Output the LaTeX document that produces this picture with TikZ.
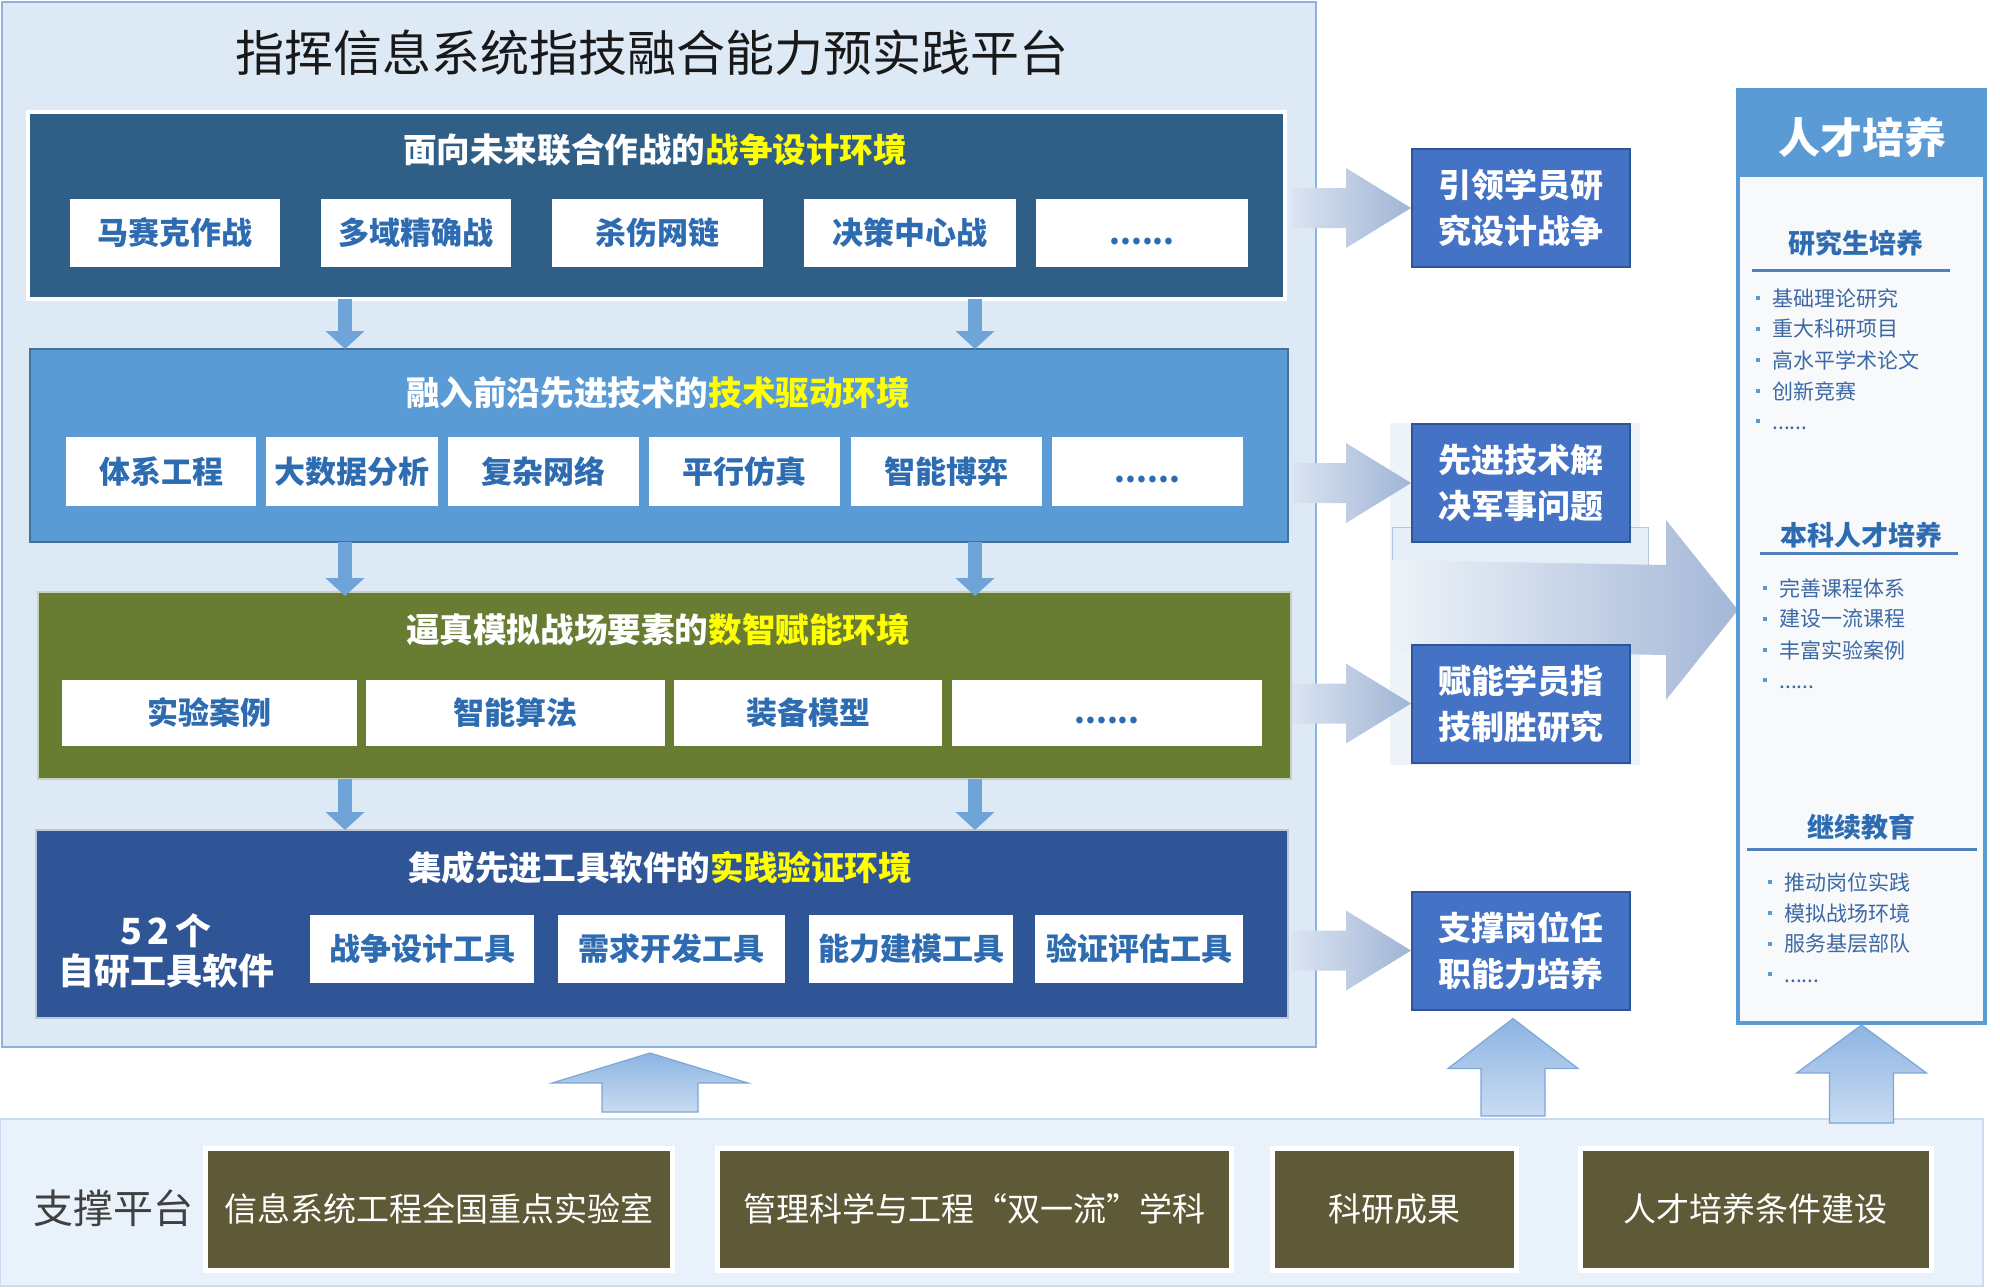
\documentclass[tikz,border=0pt]{standalone}
\usepackage{fontspec}
\setmainfont{Noto Sans CJK SC}
\usetikzlibrary{arrows.meta, calc}

\definecolor{panelbg}{RGB}{222,233,246}
\definecolor{panelline}{RGB}{142,178,222}
\definecolor{warblue}{RGB}{47,94,134}
\definecolor{techblue}{RGB}{91,155,213}
\definecolor{techline}{RGB}{65,113,156}
\definecolor{datagreen}{RGB}{104,124,50}
\definecolor{dataline}{RGB}{200,208,190}
\definecolor{toolblue}{RGB}{47,85,151}
\definecolor{toolline}{RGB}{190,200,215}
\definecolor{itemtext}{RGB}{46,108,178}
\definecolor{hiyellow}{RGB}{255,255,0}
\definecolor{goalblue}{RGB}{68,114,196}
\definecolor{basebg}{RGB}{233,241,250}
\definecolor{baseline}{RGB}{200,219,240}
\definecolor{baseolive}{RGB}{94,89,55}
\definecolor{arrowblue}{RGB}{111,164,217}
\definecolor{listtext}{RGB}{60,104,165}
\definecolor{rulecol}{RGB}{79,129,189}
\definecolor{talentbg}{RGB}{248,249,251}
\definecolor{uptop}{RGB}{141,180,226}
\definecolor{upbottom}{RGB}{201,220,242}
\definecolor{upline}{RGB}{126,166,216}
\definecolor{rightlight}{RGB}{218,228,241}
\definecolor{rightdark}{RGB}{160,180,213}
\definecolor{bandbg}{RGB}{238,243,249}
\definecolor{bandbox}{RGB}{230,238,248}
\definecolor{bandline}{RGB}{180,200,228}
\definecolor{curvedark}{RGB}{164,183,215}

\newcommand\more{\vphantom{马}......}
\newcommand\bul{\textcolor{techblue}{\rule[0.3em]{2pt}{2pt}}\hspace{6pt}}

% block arrows: tail, tip, head length, head half width, shaft half width
\newcommand\blockright[5]{%
  \shade[rightarr] ($(#1)+(0,-#5)$) -- ($(#2)+(-#3,-#5)$) -- ($(#2)+(-#3,-#4)$) -- (#2)
    -- ($(#2)+(-#3,#4)$) -- ($(#2)+(-#3,#5)$) -- ($(#1)+(0,#5)$) -- cycle;}
\newcommand\blockup[5]{%
  \shade[uparr] ($(#1)+(-#5,0)$) -- ($(#2)+(-#5,#3)$) -- ($(#2)+(-#4,#3)$) -- (#2)
    -- ($(#2)+(#4,#3)$) -- ($(#2)+(#5,#3)$) -- ($(#1)+(#5,0)$) -- cycle;}

\tikzset{
  wh/.style 2 args={minimum width=#1*0.5pt, minimum height=#2*0.5pt},
  layer/.style={inner sep=0pt, outer sep=0pt},
  envhead/.style={font=\bfseries\fontsize{16.8}{20}\selectfont, text=white},
  item/.style={fill=white, inner sep=0pt, font=\bfseries\fontsize{15.5}{18}\selectfont, text=itemtext},
  goalbox/.style={fill=goalblue, draw=toolblue, line width=1pt, text=white, align=center,
    inner sep=0pt, font=\bfseries\fontsize{16.5}{23}\selectfont},
  basebox/.style={fill=baseolive, draw=white, line width=2.5pt, text=white, inner sep=0pt,
    font=\fontsize{16.5}{20}\selectfont},
  downarr/.style={draw=arrowblue, line width=7pt, -{Triangle[width=19pt,length=9pt]}},
  uparr/.style={top color=uptop, bottom color=upbottom, draw=upline, line width=0.6pt},
  rightarr/.style={left color=rightlight, right color=rightdark},
  subhead/.style={font=\bfseries\fontsize{13.5}{16}\selectfont, text=itemtext},
  listitem/.style={anchor=west, inner sep=0pt, font=\fontsize{10.5}{12}\selectfont, text=listtext},
}

\begin{document}
\begin{tikzpicture}[x=0.5pt, y=-0.5pt]
\useasboundingbox (0,0) rectangle (2000,1287);

% --- main platform
\node[layer, wh={1314}{1045}, fill=panelbg, draw=panelline, line width=1pt] (main) at (659,524.5) {};
\node[font=\fontsize{24.5}{28}\selectfont, text=black!90] (title) at (652,53) {指挥信息系统指技融合能力预实践平台};

% --- four environments
\node[layer, wh={1257}{187}, fill=warblue, draw=white, line width=2pt] (war) at (656.5,205.5) {};
\node[envhead] (warhead) at (655,150) {面向未来联合作战的\textcolor{hiyellow}{战争设计环境}};
\foreach \name/\cx/\w [count=\i] in {马赛克作战/175/210, 多域精确战/416/190, 杀伤网链/657.5/211,
    决策中心战/910/212, \more/1142/212}
  \node[item, wh={\w}{68}] (war\i) at (\cx,233) {\name};

\node[layer, wh={1258}{193}, fill=techblue, draw=techline, line width=1pt] (tech) at (659,445.5) {};
\node[envhead] (techhead) at (658,393) {融入前沿先进技术的\textcolor{hiyellow}{技术驱动环境}};
\foreach \name/\cx/\w [count=\i] in {体系工程/161/190, 大数据分析/352/172, 复杂网络/543.5/191,
    平行仿真/744.5/191, 智能博弈/946.5/191, \more/1147.5/191}
  \node[item, wh={\w}{69}] (tech\i) at (\cx,471.5) {\name};

\node[layer, wh={1253}{187}, fill=datagreen, draw=dataline, line width=1pt] (data) at (664.5,685.5) {};
\node[envhead] (datahead) at (658,630) {逼真模拟战场要素的\textcolor{hiyellow}{数智赋能环境}};
\foreach \name/\cx/\w [count=\i] in {实验案例/209.5/295, 智能算法/515.5/299, 装备模型/808/268, \more/1107/310}
  \node[item, wh={\w}{66}] (data\i) at (\cx,712.5) {\name};

\node[layer, wh={1252}{188}, fill=toolblue, draw=toolline, line width=1pt] (tool) at (662,924) {};
\node[envhead] (toolhead) at (660,868) {集成先进工具软件的\textcolor{hiyellow}{实践验证环境}};
\node[text=white, align=center, font=\bfseries\fontsize{18}{20}\selectfont] (toolcount) at (166,951) {5\,2\,个\\自研工具软件};
\foreach \name/\cx/\w [count=\i] in {战争设计工具/422/224, 需求开发工具/671.5/227, 能力建模工具/911/204, 验证评估工具/1139/208}
  \node[item, wh={\w}{68}] (tool\i) at (\cx,949) {\name};

% --- arrows between the environments
\foreach \x [count=\k] in {345,975} \coordinate (col\k) at (\x,0);
\foreach \k in {1,2} {
  \draw[downarr] (war.south -| col\k) -- (tech.north -| col\k);
  \draw[downarr] (tech.south -| col\k) -- ($(data.north -| col\k)+(0,4)$);
  \draw[downarr] (data.south -| col\k) -- (tool.north -| col\k);
}

% --- faint band behind the middle goals
\fill[bandbg] (1390,423) rectangle (1640,765);
\draw[fill=bandbox, draw=bandline] (1392,527) rectangle (1648,620);
\shade[left color=bandbg, right color=curvedark]
  (1392,560) -- (1666,565) -- (1666,520) -- (1738,610) -- (1666,700) -- (1666,655) -- (1392,650) -- cycle;

% --- goals
\foreach \name/\cy [count=\i] in {{引领学员研\\究设计战争}/208, {先进技术解\\决军事问题}/483,
    {赋能学员指\\技制胜研究}/703.5, {支撑岗位任\\职能力培养}/950.5}
  \node[goalbox, wh={218}{118}] (r\i) at (1521,\cy) {\name};

\coordinate (rtail) at (1292,0);
\foreach \i in {1,...,4} \blockright{r\i.west -| rtail}{r\i.west}{65}{40}{20};

% --- talent training
\node[layer, wh={247}{933}, fill=talentbg, draw=techblue, line width=2pt] (talent) at (1861.5,556.5) {};
\fill[techblue] (talent.north west) rectangle ($(talent.north east)+(0,87)$);
\node[text=white, font=\bfseries\fontsize{21}{24}\selectfont] (talenthead) at (1862,137) {人才培养};

\node[subhead] (grad) at (1856,243) {研究生培养};
\draw[rulecol, line width=1.5pt] (1752,270) -- (1950,270);
\foreach \t [count=\i] in {基础理论研究, 重大科研项目, 高水平学术论文, 创新竞赛, \more}
  \node[listitem] (grad\i) at (1756,298+31*\i-31) {\bul\t};

\node[subhead] (under) at (1861,535) {本科人才培养};
\draw[rulecol, line width=1.5pt] (1760,553) -- (1958,553);
\foreach \t [count=\i] in {完善课程体系, 建设一流课程, 丰富实验案例, \more}
  \node[listitem] (under\i) at (1763,588+31*\i-31) {\bul\t};

\node[subhead] (cont) at (1861,827) {继续教育};
\draw[rulecol, line width=1.5pt] (1747,849) -- (1977,849);
\foreach \t [count=\i] in {推动岗位实践, 模拟战场环境, 服务基层部队, \more}
  \node[listitem] (cont\i) at (1768,882+31*\i-31) {\bul\t};

% --- supporting platform
\node[layer, wh={1983}{167}, fill=basebg, draw=baseline, line width=1pt] (base) at (991.5,1202.5) {};
\node[font=\fontsize{20}{24}\selectfont, text=black!75] (baselabel) at (113,1208) {支撑平台};
\foreach \name/\cx/\w [count=\i] in {信息系统工程全国重点实验室/438.5/467, 管理科学与工程“双一流”学科/974/514,
    科研成果/1394/244, 人才培养条件建设/1755.5/351}
  \node[basebox, wh={\w}{122}] (base\i) at (\cx,1209) {\name};

\coordinate (upcol1) at (650,0);
\coordinate (upcol2) at (1513,0);
\coordinate (uptail1) at ($(base.north -| upcol1)+(0,-7)$);
\coordinate (uptip1) at ($(main.south -| upcol1)+(0,6)$);
\coordinate (uptail2) at ($(base.north -| upcol2)+(0,-3)$);
\coordinate (uptip2) at ($(r4.south -| upcol2)+(0,8)$);
\coordinate (uptail3) at ($(base.north -| talent.south)+(0,4)$);
\coordinate (uptip3) at ($(talent.south)+(0,2)$);
\blockup{uptail1}{uptip1}{30}{98}{48};
\blockup{uptail2}{uptip2}{50}{65}{32};
\blockup{uptail3}{uptip3}{48}{65}{32};

\end{tikzpicture}
\end{document}
